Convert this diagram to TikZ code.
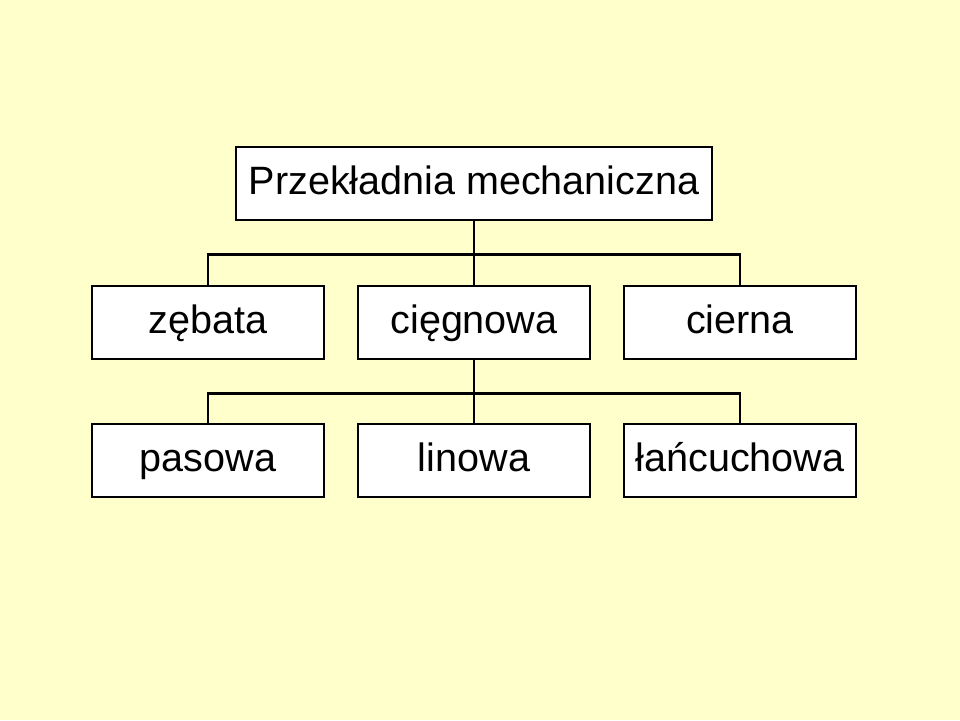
\documentclass[tikz,border=0pt]{standalone}
\usepackage{fontspec}
\setmainfont{Liberation Sans}
\usetikzlibrary{positioning}
\definecolor{bgyellow}{HTML}{FFFFCC}
\tikzstyle{kind} = [rectangle, minimum width=4.64cm, minimum height=1.46cm, text height=0.58cm, text depth=0.14cm, text centered, draw=black, fill=white, line width=1.6pt, font=\fontsize{22.5}{26}\selectfont]
\tikzstyle{line} = [line width=1.6pt]

\begin{document}
\begin{tikzpicture}
        \fill [bgyellow] (0,0) rectangle (19.2,14.4);
        \node (main) [kind, minimum width=9.52cm] at (9.48,10.73) {Przekładnia mechaniczna};
        \node (zeb) [kind] at (4.16,7.95) {zębata};
        \node (cieg) [kind] at (9.48,7.95) {cięgnowa};
        \node (cier) [kind] at (14.8,7.95) {cierna};
        \node (pas) [kind] at (4.16,5.19) {pasowa};
        \node (lin) [kind] at (9.48,5.19) {linowa};
        \node (lan) [kind] at (14.8,5.19) {łańcuchowa};
        % branches
        \draw [line] (main.south) -- ++(0,-0.66) coordinate (j1);
        \draw [line] (zeb.north) |- (j1) -| (cier.north);
        \draw [line] (j1) -- (cieg.north);
        \draw [line] (cieg.south) -- ++(0,-0.66) coordinate (j2);
        \draw [line] (pas.north) |- (j2) -| (lan.north);
        \draw [line] (j2) -- (lin.north);
\end{tikzpicture}
\end{document}
